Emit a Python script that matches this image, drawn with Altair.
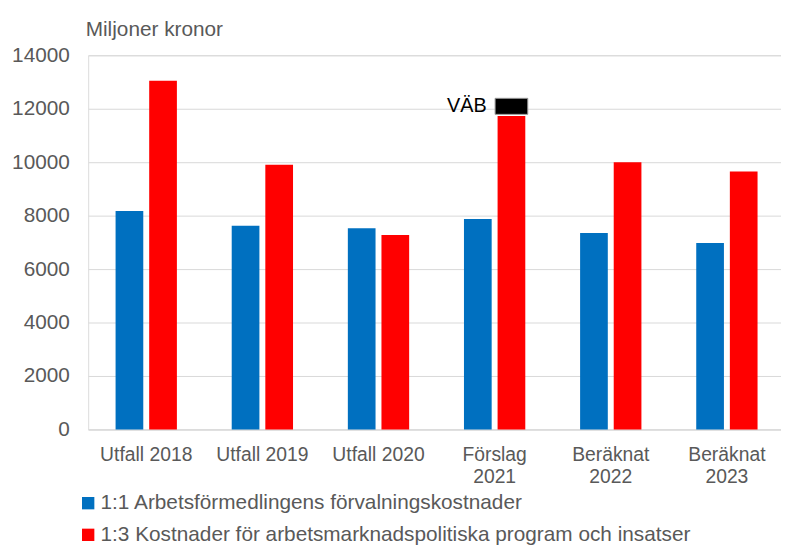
import altair as alt
import pandas as pd

categories = ["Utfall 2018", "Utfall 2019", "Utfall 2020", "Förslag 2021", "Beräknat 2022", "Beräknat 2023"]
series = ["1:1 Arbetsförmedlingens förvalningskostnader",
          "1:3 Kostnader för arbetsmarknadspolitiska program och insatser"]
forvaltning = [8170, 7620, 7530, 7870, 7350, 6980]
program = [13050, 9900, 7280, 11730, 10000, 9650]
vab_category = "Förslag 2021"
vab_range = [11790, 12390]
vab_label = "VÄB"
y_ticks = [0, 2000, 4000, 6000, 8000, 10000, 12000, 14000]
colors = ["#0070C0", "#FF0000"]

rows = []
for c, a, b in zip(categories, forvaltning, program):
    rows.append({"kategori": c, "serie": series[0], "varde": a})
    rows.append({"kategori": c, "serie": series[1], "varde": b})
df = pd.DataFrame(rows)

vab_df = pd.DataFrame([{"kategori": vab_category, "serie": series[1],
                        "start": vab_range[0], "slut": vab_range[1],
                        "mitt": (vab_range[0] + vab_range[1]) / 2, "text": vab_label}])

GRAY = "#595959"

x_enc = alt.X("kategori:N", sort=categories,
              scale=alt.Scale(range=[0, 704], paddingInner=0.472, paddingOuter=0.236),
              axis=alt.Axis(title=None, labelAngle=0, labelFontSize=19.5, labelColor=GRAY,
                            labelPadding=16, ticks=False, grid=False, domainColor="#d9d9d9",
                            labelLineHeight=23, labelFont="Liberation Sans",
                            labelExpr="indexof(datum.label, 'Utfall') == 0 ? datum.label : split(datum.label, ' ')"))
xoff_enc = alt.XOffset("serie:N", sort=series, scale=alt.Scale(domain=series, paddingInner=0.176))

bars = alt.Chart(df).mark_bar().encode(
    x=x_enc,
    xOffset=xoff_enc,
    y=alt.Y("varde:Q", scale=alt.Scale(domain=[0, 14000]),
            axis=alt.Axis(values=y_ticks, format="d", labelFontSize=21, labelColor=GRAY,
                          labelPadding=19, ticks=False, domain=False, gridColor="#d9d9d9",
                          labelFont="Liberation Sans",
                          title="Miljoner kronor", titleAngle=0, titleX=-3, titleY=-20,
                          titleAlign="left", titleBaseline="alphabetic", titleFontSize=21,
                          titleFontWeight="normal", titleColor=GRAY, titleFont="Liberation Sans")),
    color=alt.Color("serie:N", sort=series, scale=alt.Scale(domain=series, range=colors),
                    legend=alt.Legend(title=None, orient="none", legendX=-10.5, legendY=442,
                                      direction="vertical", symbolType="square", symbolSize=156,
                                      symbolStrokeWidth=0, labelFontSize=21, labelColor=GRAY,
                                      labelFont="Liberation Sans", rowPadding=10,
                                      labelOffset=2, padding=0, labelLimit=900)),
)

vab_box = alt.Chart(vab_df).mark_bar(color="black", size=33, stroke="#9a9a9a", strokeWidth=1).encode(
    x=alt.X("kategori:N", sort=categories),
    xOffset=alt.XOffset("serie:N", sort=series),
    y="start:Q",
    y2="slut:Q",
)

vab_text = alt.Chart(vab_df).mark_text(align="right", baseline="middle", dx=-25, fontSize=20,
                                       font="Liberation Sans", color="black").encode(
    x=alt.X("kategori:N", sort=categories),
    xOffset=alt.XOffset("serie:N", sort=series),
    y="mitt:Q",
    text="text:N",
)

chart = alt.layer(bars, vab_box, vab_text).properties(
    width=700, height=378,
    autosize=alt.AutoSizeParams(type="none"),
    padding={"left": 81, "top": 45, "right": 0, "bottom": 116},
).configure_view(strokeWidth=0, strokeOpacity=0).configure(background="white")

chart.save("out.html", embed_options={"renderer": "svg", "actions": False})
